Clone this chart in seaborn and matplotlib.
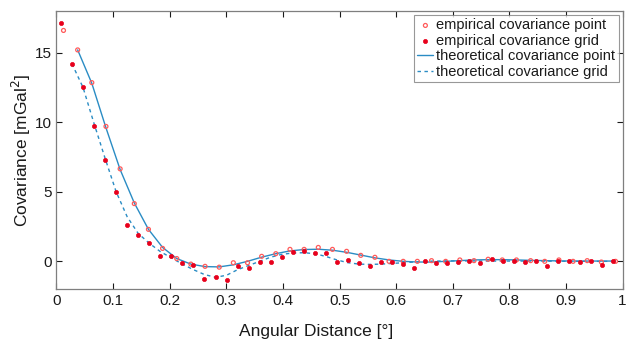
import matplotlib
matplotlib.use("Agg")
import matplotlib.pyplot as plt
import seaborn as sns
import pandas as pd
from matplotlib.ticker import FormatStrFormatter, MultipleLocator

# empirical covariance, point data (spacing 0.025 deg)
x_point = [0.0125, 0.0375, 0.0625, 0.0875, 0.1125, 0.1375, 0.1625, 0.1875, 0.2125, 0.2375,
           0.2625, 0.2875, 0.3125, 0.3375, 0.3625, 0.3875, 0.4125, 0.4375, 0.4625, 0.4875,
           0.5125, 0.5375, 0.5625, 0.5875, 0.6125, 0.6375, 0.6625, 0.6875, 0.7125, 0.7375,
           0.7625, 0.7875, 0.8125, 0.8375, 0.8625, 0.8875, 0.9125, 0.9375, 0.9625, 0.9875]
emp_point = [16.6, 15.2, 12.85, 9.7, 6.65, 4.15, 2.3, 0.93, 0.2, -0.2,
             -0.36, -0.42, -0.1, -0.1, 0.36, 0.55, 0.86, 0.86, 1.0, 0.86,
             0.72, 0.43, 0.29, 0.0, 0.0, 0.0, 0.05, 0.0, 0.1, 0.05,
             0.15, 0.1, 0.1, 0.05, 0.0, 0.1, 0.0, 0.05, -0.05, 0.0]
theo_point = [None, 15.2, 12.8, 9.6, 6.6, 4.2, 2.3, 1.0, 0.2, -0.2,
              -0.38, -0.4, -0.25, 0.0, 0.3, 0.55, 0.75, 0.85, 0.87, 0.8,
              0.65, 0.45, 0.25, 0.1, 0.0, -0.05, -0.05, 0.0, 0.05, 0.1,
              0.12, 0.12, 0.1, 0.07, 0.05, 0.03, 0.02, 0.02, 0.02, 0.02]

# empirical covariance, grid data (spacing ~0.0195 deg)
x_grid = [0.008, 0.0275, 0.047, 0.0665, 0.086, 0.1055, 0.125, 0.1445, 0.164, 0.1835,
          0.203, 0.2225, 0.242, 0.2615, 0.281, 0.3005, 0.32, 0.3395, 0.359, 0.3785,
          0.398, 0.4175, 0.437, 0.4565, 0.476, 0.4955, 0.515, 0.5345, 0.554, 0.5735,
          0.593, 0.6125, 0.632, 0.6515, 0.671, 0.6905, 0.71, 0.7295, 0.749, 0.7685,
          0.788, 0.8075, 0.827, 0.8465, 0.866, 0.8855, 0.905, 0.9245, 0.944, 0.9635, 0.983]
emp_grid = [17.1, 14.2, 12.55, 9.7, 7.3, 4.95, 2.6, 1.87, 1.35, 0.36,
            0.35, -0.15, -0.25, -1.3, -1.15, -1.36, -0.36, -0.5, -0.07, -0.07,
            0.29, 0.65, 0.75, 0.57, 0.57, -0.07, 0.07, -0.14, -0.36, -0.07,
            -0.07, -0.2, -0.5, 0.0, -0.1, -0.1, -0.05, 0.0, -0.15, 0.2,
            0.0, 0.05, -0.05, 0.0, -0.35, 0.05, 0.0, -0.05, 0.0, -0.25, 0.0]
theo_grid = [None, 14.2, 12.5, 9.9, 7.4, 5.0, 3.2, 2.0, 1.3, 0.7,
             0.25, -0.2, -0.6, -0.95, -1.15, -1.0, -0.6, -0.3, 0.0, 0.3,
             0.5, 0.6, 0.62, 0.55, 0.35, 0.1, -0.1, -0.2, -0.22, -0.2,
             -0.15, -0.1, -0.05, 0.0, 0.02, 0.03, 0.03, 0.03, 0.02, 0.02,
             0.02, 0.02, 0.02, 0.01, 0.01, 0.01, 0.0, 0.0, 0.0, 0.0, 0.0]

df_p = pd.DataFrame({"x": x_point, "emp": emp_point, "theo": theo_point})
df_g = pd.DataFrame({"x": x_grid, "emp": emp_grid, "theo": theo_grid})

sns.set_style("ticks")
plt.rcParams["font.family"] = ["Liberation Sans", "DejaVu Sans"]

line_col = "#2a8cc4"
txt_col = "#1a1a1a"
fig = plt.figure(figsize=(6.27, 3.43), dpi=100)
ax = fig.add_axes([0.09, 0.157, 0.903, 0.811])

sns.scatterplot(data=df_p, x="x", y="emp", ax=ax, marker="o", s=8,
                facecolor="none", edgecolor="#ff5a5a", linewidth=0.9,
                label="empirical covariance point", zorder=3)
sns.scatterplot(data=df_g, x="x", y="emp", ax=ax, marker="o", s=9,
                color="#e8001c", edgecolor="#e8001c", linewidth=0.5,
                label="empirical covariance grid", zorder=3)
dp = df_p.dropna()
dg = df_g.dropna()
sns.lineplot(data=dp, x="x", y="theo", ax=ax, color=line_col, linewidth=1.0,
             label="theoretical covariance point", zorder=2)
sns.lineplot(data=dg, x="x", y="theo", ax=ax, color=line_col, linewidth=1.0,
             linestyle=(0, (2.5, 2.5)), label="theoretical covariance grid", zorder=2)

ax.set_xlim(0, 1)
ax.set_ylim(-2, 18)
ax.xaxis.set_major_locator(MultipleLocator(0.1))
ax.yaxis.set_major_locator(MultipleLocator(5))
ax.xaxis.set_major_formatter(FormatStrFormatter("%g"))
ax.tick_params(direction="in", length=4, width=0.8, colors=txt_col,
               labelsize=11, top=True, right=True)
for s in ax.spines.values():
    s.set_color("#7f7f7f")
    s.set_linewidth(0.9)
ax.set_xlabel("Angular Distance [°]", fontsize=12.5, color=txt_col)
ax.set_ylabel("Covariance [mGal$^2$]", fontsize=12.5, color=txt_col)
ax.xaxis.set_label_coords(0.458, -0.125)
ax.yaxis.set_label_coords(-0.042, 0.5)

leg = ax.legend(loc="upper right", fontsize=10.5, frameon=True, fancybox=False,
                edgecolor="#7f7f7f", handlelength=1.1, handletextpad=0.2,
                borderpad=0.25, labelspacing=0.1, borderaxespad=0.25,
                markerscale=1.0)
leg.get_frame().set_linewidth(0.8)
for t in leg.get_texts():
    t.set_color(txt_col)

fig.savefig("out.png", dpi=100)
